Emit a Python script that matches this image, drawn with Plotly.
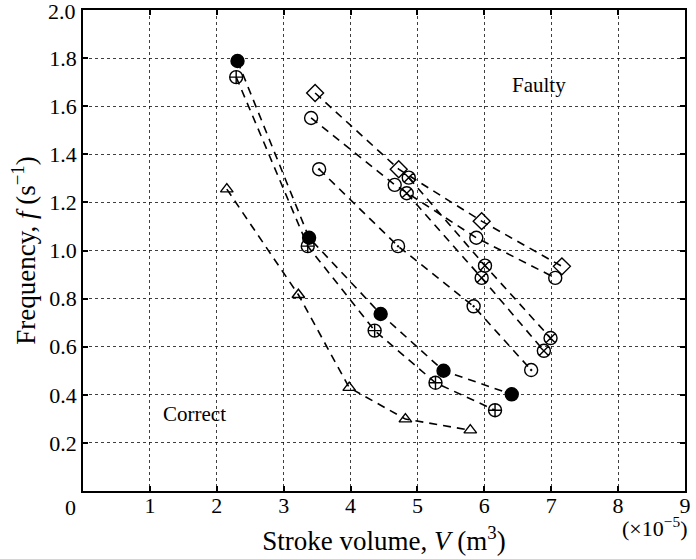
import plotly.graph_objects as go

# Data (stroke volume in 1e-5 m^3, frequency in 1/s)
filled_x = [2.31, 3.38, 4.45, 5.39, 6.41]
filled_y = [1.788, 1.053, 0.736, 0.500, 0.402]
plus_x = [2.29, 3.36, 4.36, 5.27, 6.16]
plus_y = [1.721, 1.018, 0.667, 0.450, 0.336]
tri_x = [2.15, 3.22, 3.98, 4.82, 5.79]
tri_y = [1.255, 0.816, 0.430, 0.299, 0.253]
dot_x = [3.53, 4.71, 5.84, 6.70]
dot_y = [1.338, 1.018, 0.768, 0.503]
open_x = [3.41, 4.66, 5.88, 7.06]
open_y = [1.551, 1.273, 1.053, 0.886]
dia_x = [3.47, 4.72, 5.96, 7.16]
dia_y = [1.655, 1.338, 1.122, 0.934]
xa_x = [4.87, 6.01, 6.99]
xa_y = [1.303, 0.937, 0.636]
xb_x = [4.84, 5.96, 6.89]
xb_y = [1.238, 0.886, 0.583]

x_ticks = [0, 1, 2, 3, 4, 5, 6, 7, 8, 9]
x_ticktext = ["", "1", "2", "3", "4", "5", "6", "7", "8", "9"]
y_ticks = [0, 0.2, 0.4, 0.6, 0.8, 1.0, 1.2, 1.4, 1.6, 1.8, 2.0]
y_ticktext = ["", "0.2", "0.4", "0.6", "0.8", "1.0", "1.2", "1.4", "1.6", "1.8", ""]

FONT = "Liberation Serif"
TICK_SIZE = 22
line_style = dict(color="black", width=1.6, dash="8px,6px")

series = [
    (tri_x, tri_y, "triangle-up-open", 11, "black"),
    (plus_x, plus_y, "circle-cross-open", 13, "black"),
    (filled_x, filled_y, "circle", 13, "black"),
    (dot_x, dot_y, "circle-open-dot", 13, "black"),
    (open_x, open_y, "circle-open", 13, "black"),
    (dia_x, dia_y, "diamond-open", 13, "black"),
    (xa_x, xa_y, "circle-x-open", 13, "black"),
    (xb_x, xb_y, "circle-x-open", 13, "black"),
]

fig = go.Figure()
for xs, ys, sym, sz, col in series:
    fig.add_trace(go.Scatter(
        x=xs, y=ys, mode="lines+markers",
        line=line_style,
        marker=dict(symbol=sym, size=sz, color=col,
                    line=dict(color="black", width=1.4)),
        showlegend=False,
    ))

axis_common = dict(
    showline=True, linecolor="black", linewidth=1.5, mirror="ticks",
    ticks="inside", ticklen=5, tickcolor="black", tickwidth=1.5,
    showgrid=True, gridcolor="rgba(0,0,0,0.75)", gridwidth=1, griddash="dot",
    zeroline=False,
    tickfont=dict(family=FONT, size=TICK_SIZE, color="black"),
)

fig.update_xaxes(
    range=[0, 9], tickvals=x_ticks, ticktext=x_ticktext,
    ticklabelstandoff=-6,
    title=dict(text="Stroke volume, <i>V</i> (m<sup>3</sup>)",
               font=dict(family=FONT, size=27, color="black"), standoff=14),
    **axis_common,
)
fig.update_yaxes(
    range=[0, 2], tickvals=y_ticks, ticktext=y_ticktext,
    title=dict(text="Frequency, <i>f</i> (s<sup>−1</sup>)",
               font=dict(family=FONT, size=27, color="black"), standoff=6),
    **axis_common,
)

fig.add_annotation(x=6.82, y=1.689, text="Faulty", showarrow=False,
                   font=dict(family=FONT, size=21, color="black"))
fig.add_annotation(x=1.66, y=0.322, text="Correct", showarrow=False,
                   font=dict(family=FONT, size=21, color="black"))
# shared origin label at the lower-left corner
fig.add_annotation(x=0, y=0, xref="x", yref="paper", xshift=-13, yshift=-16,
                   yanchor="middle", text="0", showarrow=False,
                   font=dict(family=FONT, size=TICK_SIZE, color="black"))
# top y tick label (kept visible at the top edge)
fig.add_annotation(x=0, y=2.0, xref="paper", yref="y", xanchor="right",
                   xshift=-5, yshift=-1, text="2.0", showarrow=False,
                   font=dict(family=FONT, size=TICK_SIZE, color="black"))
fig.add_annotation(x=1.0, y=0, xref="paper", yref="paper", xanchor="right",
                   yanchor="middle", yshift=-36, xshift=4,
                   text="(×10<sup>−5</sup>)", showarrow=False,
                   font=dict(family=FONT, size=22, color="black"))

fig.update_layout(
    width=696, height=559,
    margin=dict(l=83, r=5, t=10, b=68),
    plot_bgcolor="white", paper_bgcolor="white",
    font=dict(family=FONT, color="black"),
)

fig.write_html("out.html")
